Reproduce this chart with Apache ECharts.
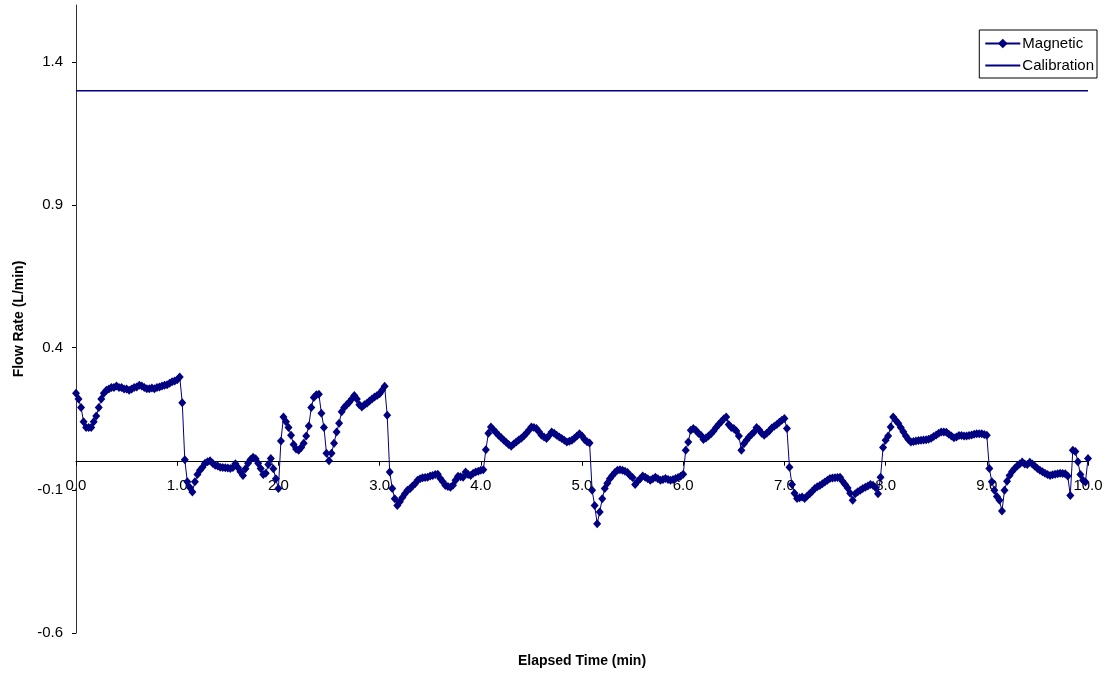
<!DOCTYPE html>
<html>
<head>
<meta charset="utf-8">
<script src="https://cdn.jsdelivr.net/npm/echarts@6/dist/echarts.min.js"></script>
<style>
html,body{margin:0;padding:0;background:#fff;}
#chart{width:1105px;height:677px;}
</style>
</head>
<body>
<div id="chart"></div>
<script>
// Sampling interval of the magnetic meter (minutes)
const sampleStepMin = 0.025;
// Magnetic flow readings (L/min), one array per minute of elapsed time
const flowMin0 = [0.24,0.22,0.19,0.14,0.12,0.12,0.12,0.14,0.16,0.19, 0.22,0.24,0.25,0.255,0.26,0.26,0.265,0.26,0.26,0.255, 0.255,0.25,0.255,0.26,0.262,0.268,0.265,0.26,0.256,0.256, 0.258,0.256,0.26,0.262,0.265,0.268,0.27,0.275,0.28,0.283];
const flowMin1 = [0.287,0.297,0.207,0.007,-0.07,-0.09,-0.106,-0.07,-0.045,-0.03, -0.019,-0.005,0.0,0.003,-0.005,-0.012,-0.015,-0.019,-0.02,-0.021, -0.022,-0.024,-0.02,-0.007,-0.02,-0.035,-0.048,-0.025,-0.005,0.008, 0.016,0.01,-0.005,-0.024,-0.045,-0.04,-0.01,0.011,-0.025,-0.06];
const flowMin2 = [-0.094,0.073,0.157,0.14,0.12,0.093,0.06,0.045,0.04,0.05, 0.065,0.09,0.125,0.19,0.225,0.235,0.236,0.17,0.12,0.03, 0.003,0.03,0.065,0.104,0.135,0.175,0.19,0.2,0.208,0.22, 0.232,0.22,0.2,0.192,0.2,0.205,0.213,0.22,0.227,0.232];
const flowMin3 = [0.238,0.25,0.264,0.163,-0.036,-0.094,-0.13,-0.153,-0.14,-0.125, -0.112,-0.1,-0.095,-0.085,-0.077,-0.065,-0.06,-0.056,-0.055,-0.054, -0.05,-0.048,-0.045,-0.044,-0.059,-0.07,-0.083,-0.087,-0.089,-0.082, -0.065,-0.051,-0.053,-0.054,-0.036,-0.045,-0.048,-0.04,-0.036,-0.033];
const flowMin4 = [-0.03,-0.028,0.042,0.1,0.122,0.112,0.102,0.093,0.085,0.076, 0.068,0.06,0.054,0.062,0.069,0.076,0.082,0.09,0.1,0.11, 0.122,0.12,0.116,0.105,0.093,0.087,0.081,0.092,0.104,0.1, 0.093,0.087,0.081,0.075,0.069,0.072,0.075,0.082,0.09,0.098];
const flowMin5 = [0.09,0.078,0.07,0.066,-0.1,-0.153,-0.217,-0.176,-0.13,-0.094, -0.075,-0.06,-0.048,-0.038,-0.03,-0.028,-0.03,-0.033,-0.038,-0.048, -0.055,-0.08,-0.068,-0.06,-0.05,-0.054,-0.06,-0.065,-0.06,-0.054, -0.06,-0.065,-0.062,-0.059,-0.062,-0.065,-0.062,-0.059,-0.055,-0.051];
const flowMin6 = [-0.044,0.04,0.069,0.11,0.116,0.11,0.1,0.093,0.078,0.083, 0.09,0.098,0.108,0.12,0.13,0.14,0.15,0.157,0.13,0.12, 0.116,0.108,0.09,0.04,0.063,0.075,0.087,0.095,0.104,0.12, 0.112,0.1,0.093,0.1,0.108,0.118,0.124,0.13,0.138,0.145];
const flowMin7 = [0.151,0.116,-0.019,-0.08,-0.11,-0.129,-0.126,-0.124,-0.129,-0.12, -0.112,-0.103,-0.094,-0.088,-0.083,-0.077,-0.071,-0.065,-0.059,-0.057, -0.056,-0.055,-0.054,-0.068,-0.08,-0.092,-0.11,-0.135,-0.112,-0.105, -0.1,-0.094,-0.089,-0.085,-0.08,-0.082,-0.09,-0.112,-0.054,0.05];
const flowMin8 = [0.075,0.09,0.122,0.157,0.145,0.135,0.12,0.105,0.09,0.078, 0.069,0.071,0.073,0.074,0.075,0.076,0.077,0.079,0.082,0.088, 0.094,0.1,0.104,0.104,0.103,0.096,0.09,0.084,0.087,0.092, 0.092,0.09,0.09,0.092,0.094,0.096,0.098,0.098,0.098,0.095];
const flowMin9 = [0.093,-0.024,-0.07,-0.1,-0.122,-0.135,-0.173,-0.1,-0.068,-0.048, -0.034,-0.024,-0.015,-0.008,-0.001,-0.008,-0.01,-0.002,-0.008,-0.016, -0.024,-0.03,-0.035,-0.04,-0.045,-0.048,-0.046,-0.044,-0.042,-0.04, -0.041,-0.042,-0.05,-0.118,0.04,0.036,0.0,-0.045,-0.065,-0.071, 0.011];
// Calibration reference flow (L/min) across the run
const calibrationTimes = [0, 10];
const calibrationValue = 1.3;
// Axis ticks
const yTicks = [-0.6, -0.1, 0.4, 0.9, 1.4];

const magneticValues = [].concat(flowMin0, flowMin1, flowMin2, flowMin3, flowMin4,
  flowMin5, flowMin6, flowMin7, flowMin8, flowMin9);
const magneticData = magneticValues.map((v, i) => [+(i * sampleStepMin).toFixed(4), v]);
const calibrationData = calibrationTimes.map(t => [t, calibrationValue]);

const FONT = "'Liberation Sans', Arial, sans-serif";
const NAVY = '#000080';

// layout
const GRID_TOP = 5, GRID_BOTTOM = 44, H = 677;
const Y_MIN = -0.6, Y_MAX = 1.6;
const plotH = H - GRID_TOP - GRID_BOTTOM;
// shift the x axis (line, ticks, labels) from the bottom edge up to the zero line
const zeroOffset = -plotH * (0 - Y_MIN) / (Y_MAX - Y_MIN);

const chart = echarts.init(document.getElementById('chart'), null, {renderer: 'canvas'});
chart.setOption({
  animation: false,
  backgroundColor: '#fff',
  textStyle: {fontFamily: FONT},
  grid: {left: 76, right: 17, top: GRID_TOP, bottom: GRID_BOTTOM, containLabel: false, outerBoundsMode: 'none'},
  legend: {
    orient: 'vertical',
    right: 8, top: 30,
    backgroundColor: '#fff',
    borderColor: '#000', borderWidth: 1,
    padding: [6, 3, 5, 5],
    itemGap: 7,
    itemWidth: 35, itemHeight: 12,
    textStyle: {fontFamily: FONT, fontSize: 15, color: '#000', padding: [0,0,0,-3]},
    data: [
      {name: 'Magnetic'},
      {name: 'Calibration', itemStyle: {color: 'rgba(0,0,0,0)', opacity: 0, borderWidth: 0}}
    ]
  },
  xAxis: {
    type: 'value',
    position: 'bottom',
    offset: zeroOffset,
    min: 0, max: 10, interval: 1,
    axisLine: {onZero: false, lineStyle: {color: '#000', width: 1}},
    axisTick: {show: true, inside: false, length: 4, lineStyle: {color: '#000'}},
    axisLabel: {
      fontFamily: FONT, fontSize: 15, color: '#000', margin: 17,
      formatter: v => v.toFixed(1)
    },
    splitLine: {show: false}
  },
  yAxis: {
    type: 'value',
    min: Y_MIN, max: Y_MAX, interval: 0.5,
    name: 'Flow Rate (L/min)',
    nameLocation: 'middle',
    nameRotate: 90,
    nameGap: 50,
    nameTextStyle: {fontFamily: FONT, fontSize: 14, fontWeight: 'bold', color: '#000'},
    axisLine: {show: true, lineStyle: {color: '#333', width: 1}},
    axisTick: {show: true, inside: false, length: 4, customValues: yTicks, lineStyle: {color: '#000'}},
    axisLabel: {
      customValues: yTicks,
      fontFamily: FONT, fontSize: 15, color: '#000', margin: 13,
      formatter: v => v.toFixed(1)
    },
    splitLine: {show: false}
  },
  graphic: [{
    type: 'text',
    x: 582, y: 661,
    style: {
      text: 'Elapsed Time (min)',
      font: "bold 14px 'Liberation Sans', Arial, sans-serif",
      fill: '#000', align: 'center', verticalAlign: 'middle'
    }
  }],
  series: [
    {
      name: 'Magnetic',
      type: 'line',
      data: magneticData,
      symbol: 'diamond',
      symbolSize: [8, 9],
      showAllSymbol: true,
      itemStyle: {color: NAVY},
      lineStyle: {color: NAVY, width: 1},
      z: 3
    },
    {
      name: 'Calibration',
      type: 'line',
      data: calibrationData,
      symbol: 'none',
      itemStyle: {color: NAVY},
      lineStyle: {color: NAVY, width: 1.5},
      z: 2
    }
  ]
});
</script>
</body>
</html>
